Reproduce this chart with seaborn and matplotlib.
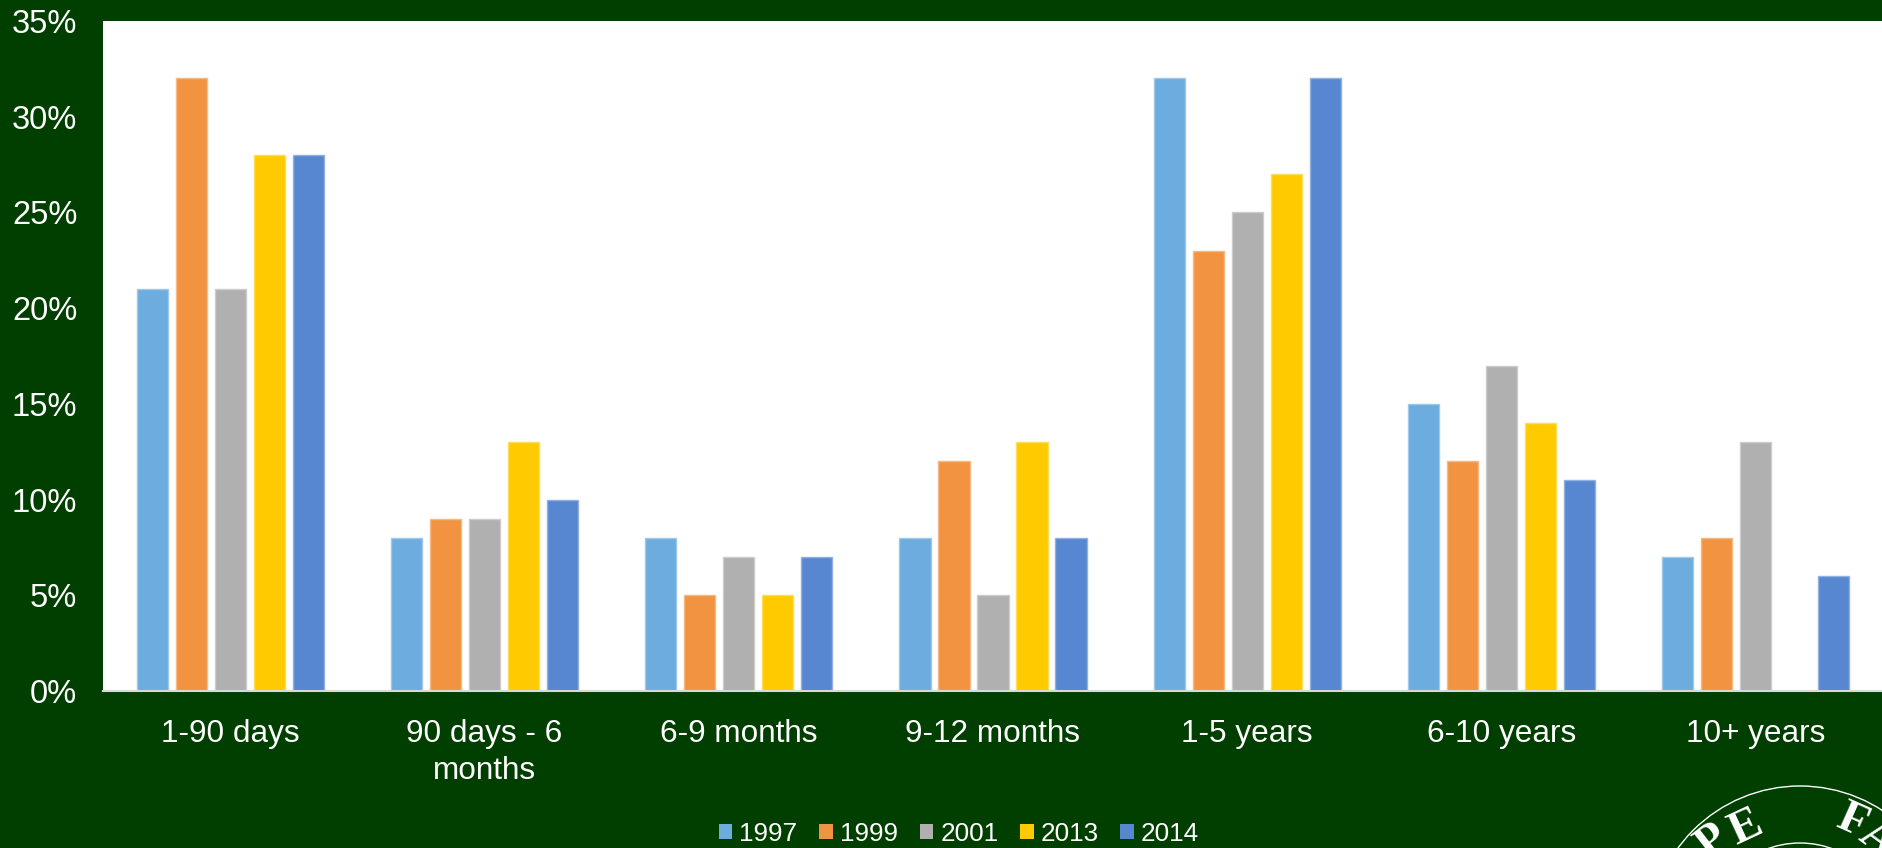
import numpy as np
import pandas as pd
import matplotlib
matplotlib.use('Agg')
import matplotlib.pyplot as plt
from matplotlib.colors import to_rgb
from matplotlib.patches import Circle
import seaborn as sns

categories = ['1-90 days', '90 days - 6\nmonths', '6-9 months', '9-12 months',
              '1-5 years', '6-10 years', '10+ years']
v1997 = [21, 8, 8, 8, 32, 15, 7]
v1999 = [32, 9, 5, 12, 23, 12, 8]
v2001 = [21, 9, 7, 5, 25, 17, 13]
v2013 = [28, 13, 5, 13, 27, 14, np.nan]
v2014 = [28, 10, 7, 8, 32, 11, 6]
years = ['1997', '1999', '2001', '2013', '2014']
colors = ['#6CACDE', '#F29341', '#B0B0B0', '#FFCB00', '#5787D0']
yticks = [0, 5, 10, 15, 20, 25, 30, 35]

bg = '#003F00'
W, H = 1883, 848

sns.set_theme(style='white')
plt.rcParams['font.family'] = ['Liberation Sans', 'DejaVu Sans']

df = pd.DataFrame({'category': categories, '1997': v1997, '1999': v1999,
                   '2001': v2001, '2013': v2013, '2014': v2014})
df = df.melt(id_vars='category', var_name='year', value_name='share')

fig = plt.figure(figsize=(W / 100, H / 100), dpi=100, facecolor=bg)
ax = fig.add_axes([103 / W, 1 - 691 / H, 1780 / W, 670 / H], facecolor='white')

sns.barplot(data=df, x='category', y='share', hue='year', hue_order=years,
            palette=colors, saturation=1, width=0.767, gap=0.2, ax=ax)

# bars have a thin lighter outline
for p in ax.patches:
    r, g, b = to_rgb(p.get_facecolor()[:3])
    p.set_edgecolor((r + (1 - r) * 0.35, g + (1 - g) * 0.35, b + (1 - b) * 0.35))
    p.set_linewidth(1.0)

ax.set_xlim(-0.5, 6.5)
ax.set_ylim(0, 35)
ax.set_yticks(yticks)
ax.set_yticklabels([f'{t}%' for t in yticks])
ax.set_xlabel('')
ax.set_ylabel('')
ax.tick_params(axis='x', colors='white', labelsize=22.7, length=0, pad=20)
ax.tick_params(axis='y', colors='white', labelsize=23.5, length=0, pad=18.5)
for lab in ax.get_xticklabels():
    lab.set_linespacing(1.3)
for s in ['top', 'right', 'left']:
    ax.spines[s].set_visible(False)
ax.spines['bottom'].set_color('#D9D9D9')
ax.spines['bottom'].set_linewidth(1.5)

sns.move_legend(ax, 'center', bbox_to_anchor=(959 / W, 1 - 834 / H),
                bbox_transform=fig.transFigure, ncol=5, frameon=False, title=None,
                fontsize=18.8, labelcolor='white', handlelength=0.52, handleheight=0.52,
                handletextpad=0.27, columnspacing=0.83)
for h in ax.get_legend().legend_handles:
    h.set_edgecolor('none')

# seal in the corner, cut off by the figure edge
seal = fig.add_axes([0, 0, 1, 1], facecolor='none')
seal.set_xlim(0, W)
seal.set_ylim(H, 0)
seal.axis('off')
seal.add_patch(Circle((1800, 937), 151, fill=False, ec='white', lw=1))
seal.add_patch(Circle((1800, 937), 94, fill=False, ec='white', lw=1))
for txt, x, y, rot in [('P', 1713, 842, 38), ('E', 1746, 828, 25),
                       ('F', 1852, 822, -24), ('A', 1877, 840, -36)]:
    seal.text(x, y, txt, color='white', fontsize=34, fontweight='bold',
              family='Liberation Serif', rotation=rot, ha='center', va='center')

fig.savefig('out.png', dpi=100, facecolor=bg)
